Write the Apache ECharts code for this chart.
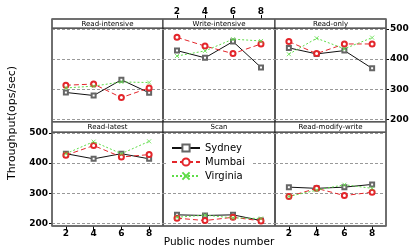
<!DOCTYPE html>
<html><head><meta charset="utf-8">
<script src="https://cdn.jsdelivr.net/npm/echarts@6/dist/echarts.min.js"></script>
<style>html,body{margin:0;padding:0;background:#fff}#c{width:415px;height:250px}</style>
</head><body><div id="c"></div>
<script>
const nodes = [2, 4, 6, 8];
const panels = ['Read-intensive', 'Write-intensive', 'Read-only', 'Read-latest', 'Scan', 'Read-modify-write'];
const yTicks = [200, 300, 400, 500];
const sydney = [[289,279,331,288],[428,404,458,372],[437,417,428,369],[431,414,431,414],[228,226,228,209],[320,316,320,329]];
const mumbai = [[313,317,272,304],[472,443,418,450],[458,418,450,450],[426,458,420,428],[217,209,220,208],[289,316,292,303]];
const virginia = [[304,310,324,322],[410,427,466,460],[416,469,434,471],[431,471,431,472],[220,227,218,216],[289,310,328,316]];

const colL = [52, 163, 275], colW = [111, 112, 111];
const rowT = [28, 132], plotH = 94, stripH = [9, 10];
const red = '#e3262b', green = '#5edc48';
const grids = [], xAxes = [], yAxes = [], series = [], graphics = [];
const lblFont = {fontFamily: 'DejaVu Sans', fontWeight: 'bold', fontSize: 9, color: '#000'};
for (let i = 0; i < 6; i++) {
  const r = Math.floor(i / 3), c = i % 3;
  grids.push({left: colL[c], top: rowT[r], width: colW[c], height: plotH, show: true,
    borderColor: '#222', borderWidth: 1, backgroundColor: 'transparent'});
  const showX = (i === 1 || i === 3 || i === 5);
  xAxes.push({type: 'value', gridIndex: i, min: 1, max: 9,
    position: i === 1 ? 'top' : 'bottom', offset: i === 1 ? stripH[0] : 0,
    axisLine: {show: i === 1, lineStyle: {color: '#222'}},
    axisTick: {show: showX, customValues: nodes, length: 4, lineStyle: {color: '#000'}},
    axisLabel: {show: showX, customValues: nodes, margin: 3, ...lblFont},
    splitLine: {show: false}});
  const showY = (i === 2 || i === 3);
  yAxes.push({type: 'value', gridIndex: i, min: 191, max: 503,
    position: i === 2 ? 'right' : 'left',
    axisLine: {show: false},
    axisTick: {show: showY, customValues: yTicks, length: 3, lineStyle: {color: '#000'}},
    axisLabel: {show: showY, customValues: yTicks, margin: 4, ...lblFont},
    splitLine: {show: true, lineStyle: {color: '#999', type: [3, 2], width: 1}}});
  const mk = (vals) => nodes.map((n, k) => [n, vals[k]]);
  series.push({name: 'Sydney', type: 'line', xAxisIndex: i, yAxisIndex: i, data: mk(sydney[i]),
    symbol: 'emptyRect', symbolSize: 4, itemStyle: {color: '#666', borderWidth: 0.8},
    lineStyle: {color: '#111', width: 1}, z: 3, animation: false});
  series.push({name: 'Mumbai', type: 'line', xAxisIndex: i, yAxisIndex: i, data: mk(mumbai[i]),
    symbol: 'emptyCircle', symbolSize: 5, itemStyle: {color: red, borderWidth: 0.8},
    lineStyle: {color: red, width: 1, type: [5, 3]}, z: 4, animation: false});
  series.push({name: 'Virginia', type: 'line', xAxisIndex: i, yAxisIndex: i, data: mk(virginia[i]),
    symbol: 'path://M0,0L10,10M10,0L0,10', symbolSize: 4,
    itemStyle: {color: 'rgba(0,0,0,0)', borderColor: green, borderWidth: 0.8},
    lineStyle: {color: green, width: 1, type: [2, 2]}, z: 5, animation: false});
  const sy = rowT[r] - stripH[r];
  graphics.push({type: 'rect', shape: {x: colL[c], y: sy, width: colW[c], height: stripH[r]},
    style: {fill: '#fff', stroke: '#222', lineWidth: 1}, z: 10});
  graphics.push({type: 'text', x: colL[c] + colW[c] / 2, y: sy + stripH[r] / 2 + 0.5,
    style: {text: panels[i], fontSize: 7, fontFamily: 'DejaVu Sans', fill: '#000',
      align: 'center', verticalAlign: 'middle'}, z: 11});
}
graphics.push({type: 'rect', shape: {x: 52, y: 19, width: 334, height: 207},
  style: {fill: 'none', stroke: '#666', lineWidth: 1.5}, z: 12});
graphics.push({type: 'text', x: 12, y: 123, rotation: Math.PI / 2,
  style: {text: 'Throughput(ops/sec)', fontSize: 11, fontFamily: 'DejaVu Sans', fill: '#000',
    align: 'center', verticalAlign: 'middle'}});
graphics.push({type: 'text', x: 219, y: 242,
  style: {text: 'Public nodes number', fontSize: 10.5, fontFamily: 'DejaVu Sans', fill: '#000',
    align: 'center', verticalAlign: 'middle'}});

const chart = echarts.init(document.getElementById('c'), null, {renderer: 'canvas'});
chart.setOption({
  animation: false,
  grid: grids, xAxis: xAxes, yAxis: yAxes, series: series, graphic: graphics,
  legend: {data: ['Sydney', 'Mumbai', 'Virginia'], orient: 'vertical', left: 168, top: 141,
    itemWidth: 28, itemHeight: 9, itemGap: 4, backgroundColor: '#fff', padding: [2, 6, 2, 3],
    textStyle: {fontSize: 10, fontFamily: 'DejaVu Sans', color: '#000'}}
});
</script></body></html>
